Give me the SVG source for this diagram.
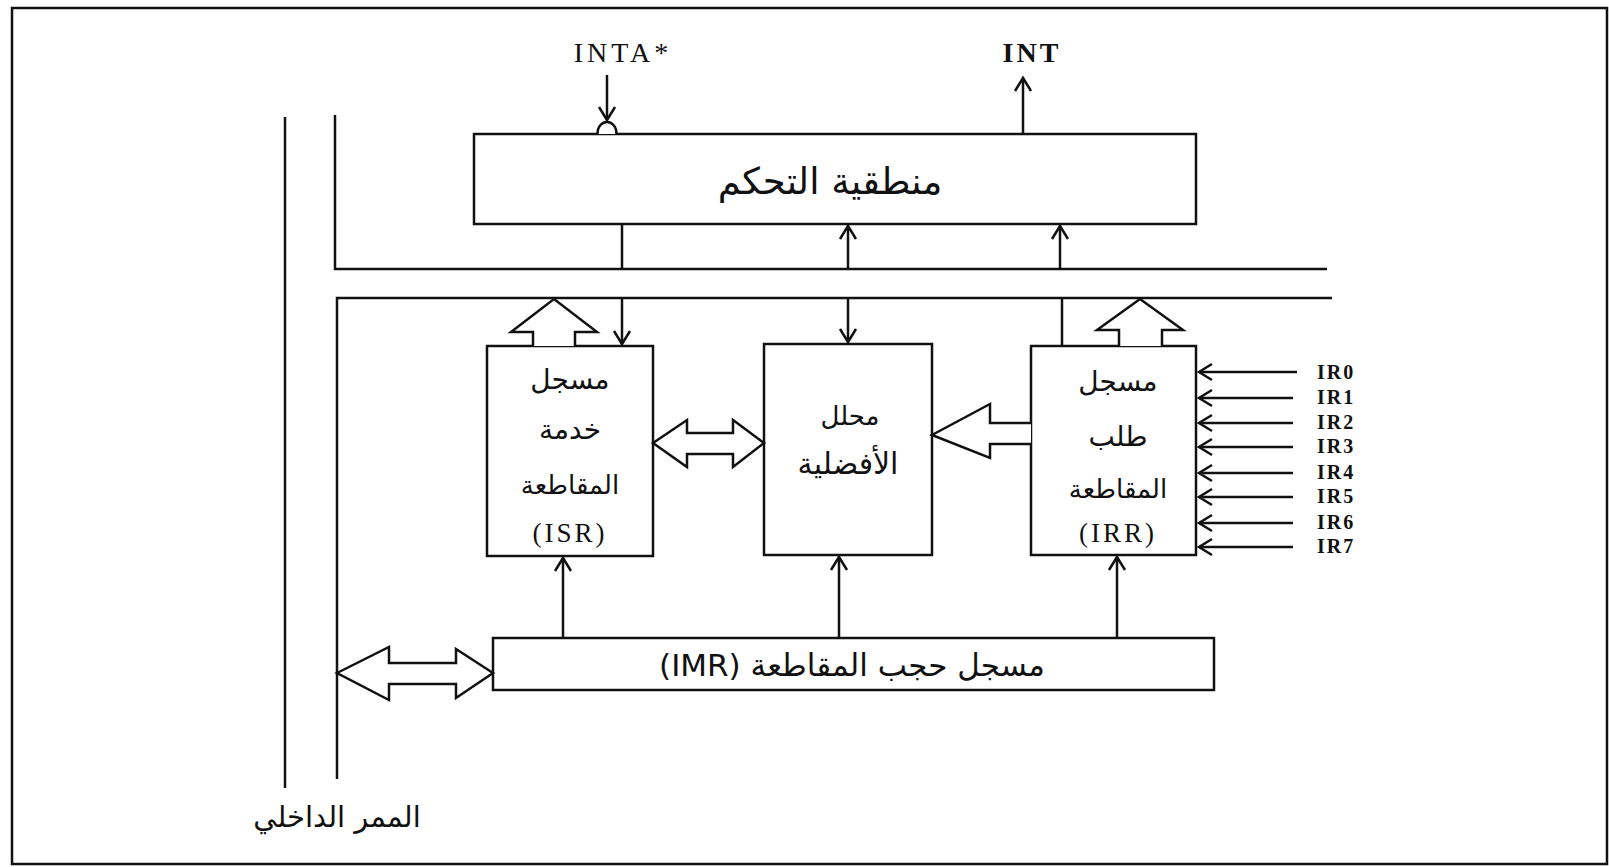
<svg xmlns="http://www.w3.org/2000/svg" width="1609" height="867" viewBox="0 0 1609 867">
<style>
.ln{stroke:#111;stroke-width:2.5;fill:none}
.bx{stroke:#111;stroke-width:2.5;fill:#fff}
.hol{stroke:#111;stroke-width:2.5;fill:#fff;stroke-linejoin:miter}
.ar{font-family:"DejaVu Sans",sans-serif;font-size:26px;fill:#111;text-anchor:middle}
.lat{font-family:"Liberation Serif",serif;font-size:27px;fill:#111;text-anchor:middle;letter-spacing:3px}
.ir{font-family:"Liberation Serif",serif;font-size:20px;font-weight:bold;fill:#111;letter-spacing:2px}
</style>
<defs>
<marker id="arr" markerUnits="userSpaceOnUse" markerWidth="24" markerHeight="24" viewBox="-16 -12 20 24" refX="0" refY="0" orient="auto" overflow="visible">
<path d="M-13,-8 L0,0 L-13,8" fill="none" stroke="#111" stroke-width="2.5"/>
</marker>
</defs>
<rect x="0" y="0" width="1609" height="867" fill="#fff"/>
<rect x="12" y="8" width="1595" height="856" class="ln"/>

<g id="bus">
<line x1="285" y1="117" x2="285" y2="788" class="ln"/>
<polyline points="335,115 335,269 1327,269" class="ln"/>
<polyline points="1332,298 337,298 337,779" class="ln"/>
<text x="337" y="827" class="ar" style="font-size:29px" direction="rtl">الممر الداخلي</text>
</g>

<g id="control">
<rect x="474" y="134" width="722" height="90" class="bx"/>
<text x="830" y="194" class="ar" style="font-size:37px" direction="rtl">منطقية التحكم</text>
</g>

<g id="isr">
<rect x="487" y="346" width="166" height="210" class="bx"/>
<text x="570" y="389" class="ar" style="font-size:28px" direction="rtl">مسجل</text>
<text x="570" y="439" class="ar" style="font-size:28px" direction="rtl">خدمة</text>
<text x="570" y="494" class="ar" direction="rtl">المقاطعة</text>
<text x="570" y="542" class="lat">(ISR)</text>
</g>

<g id="priority">
<rect x="764" y="344" width="168" height="211" class="bx"/>
<text x="850" y="425" class="ar" direction="rtl">محلل</text>
<text x="848" y="474" class="ar" style="font-size:30px" direction="rtl">الأفضلية</text>
</g>

<g id="irr">
<rect x="1031" y="346" width="165" height="209" class="bx"/>
<text x="1118" y="391" class="ar" style="font-size:28px" direction="rtl">مسجل</text>
<text x="1118" y="446" class="ar" style="font-size:28px" direction="rtl">طلب</text>
<text x="1118" y="498" class="ar" direction="rtl">المقاطعة</text>
<text x="1118" y="542" class="lat">(IRR)</text>
</g>

<g id="imr">
<rect x="493" y="638" width="721" height="52" class="bx"/>
<text x="852" y="676" class="ar" style="font-size:31px" direction="rtl">مسجل حجب المقاطعة (IMR)</text>
</g>

<g id="labels">
<text x="623" y="62" class="lat" style="font-size:28px;letter-spacing:4px">INTA*</text>
<text x="1032" y="62" class="lat" style="font-size:28px;font-weight:bold;letter-spacing:3px">INT</text>
<text x="1317" y="379" class="ir">IR0</text>
<text x="1317" y="404" class="ir">IR1</text>
<text x="1317" y="429" class="ir">IR2</text>
<text x="1317" y="453" class="ir">IR3</text>
<text x="1317" y="479" class="ir">IR4</text>
<text x="1317" y="503" class="ir">IR5</text>
<text x="1317" y="529" class="ir">IR6</text>
<text x="1317" y="553" class="ir">IR7</text>
</g>

<g id="connectors">
<line x1="607" y1="75" x2="607" y2="120" class="ln" marker-end="url(#arr)"/>
<path d="M597.5,134 C597.5,118 616.5,118 616.5,134" class="hol"/>
<line x1="1023" y1="134" x2="1023" y2="78" class="ln" marker-end="url(#arr)"/>
<line x1="622" y1="224" x2="622" y2="269" class="ln"/>
<line x1="848" y1="269" x2="848" y2="226" class="ln" marker-end="url(#arr)"/>
<line x1="1060" y1="269" x2="1060" y2="226" class="ln" marker-end="url(#arr)"/>
<line x1="622" y1="298" x2="622" y2="344" class="ln" marker-end="url(#arr)"/>
<line x1="848" y1="298" x2="848" y2="342" class="ln" marker-end="url(#arr)"/>
<line x1="1062" y1="298" x2="1062" y2="346" class="ln"/>
<path d="M533,346 L533,332 L511,332 L554,299 L597,332 L575,332 L575,346" class="hol"/>
<path d="M1119,346 L1119,330 L1097,330 L1140,299 L1183,330 L1162,330 L1162,346" class="hol"/>
<path d="M653,443 L687,420 L687,433 L733,433 L733,420 L764,443 L733,467 L733,454 L687,454 L687,467 Z" class="hol"/>
<path d="M1031,423 L990,423 L990,404 L932,435 L990,458 L990,444 L1031,444" class="hol"/>
<path d="M337,673 L389,647 L389,663 L456,663 L456,649 L493,673 L456,698 L456,684 L389,684 L389,700 Z" class="hol"/>
<line x1="563" y1="638" x2="563" y2="558" class="ln" marker-end="url(#arr)"/>
<line x1="839" y1="638" x2="839" y2="557" class="ln" marker-end="url(#arr)"/>
<line x1="1117" y1="638" x2="1117" y2="557" class="ln" marker-end="url(#arr)"/>
<line x1="1297" y1="372" x2="1199" y2="372" class="ln" marker-end="url(#arr)"/>
<line x1="1293" y1="398" x2="1199" y2="398" class="ln" marker-end="url(#arr)"/>
<line x1="1293" y1="423" x2="1199" y2="423" class="ln" marker-end="url(#arr)"/>
<line x1="1293" y1="447" x2="1199" y2="447" class="ln" marker-end="url(#arr)"/>
<line x1="1293" y1="473" x2="1199" y2="473" class="ln" marker-end="url(#arr)"/>
<line x1="1293" y1="497" x2="1199" y2="497" class="ln" marker-end="url(#arr)"/>
<line x1="1293" y1="523" x2="1199" y2="523" class="ln" marker-end="url(#arr)"/>
<line x1="1293" y1="547" x2="1199" y2="547" class="ln" marker-end="url(#arr)"/>
</g>
</svg>
